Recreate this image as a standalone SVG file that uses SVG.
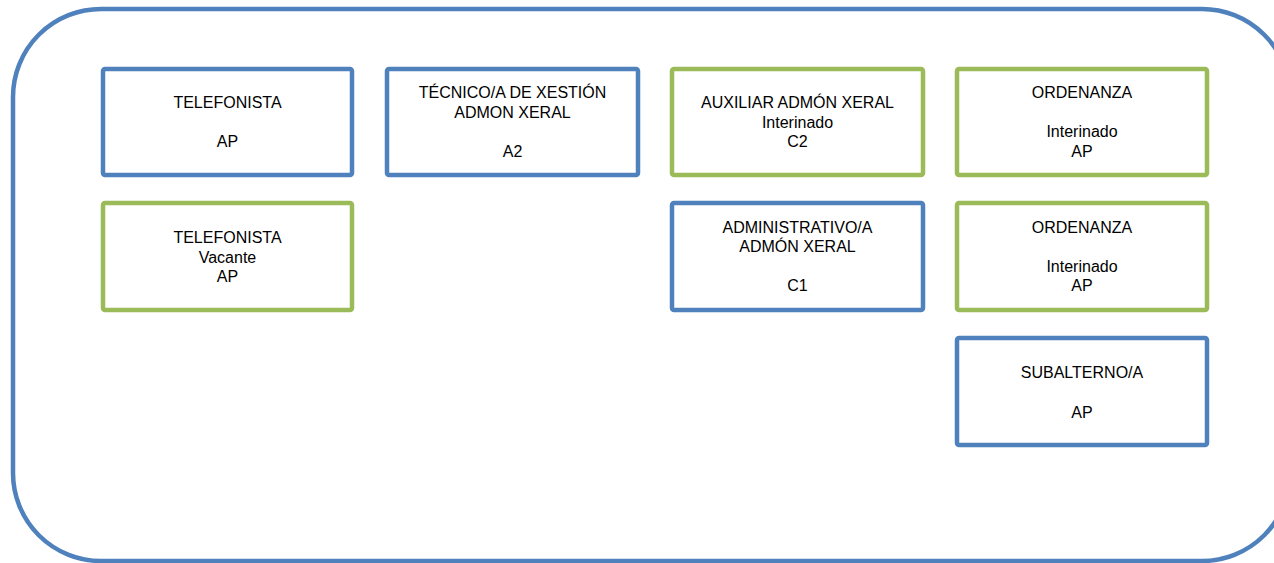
<svg xmlns="http://www.w3.org/2000/svg" width="1274" height="563" viewBox="0 0 1274 563">
<style>
.frame{fill:#ffffff;stroke:#4F81BD;stroke-width:4.5}
.b{fill:#ffffff;stroke:#4F81BD;stroke-width:4.5}
.g{fill:#ffffff;stroke:#9BBB59;stroke-width:4.5}
text{font-family:"Liberation Sans",Arial,sans-serif;font-size:16px;fill:#000000;text-anchor:middle}
</style>
<rect width="1274" height="563" fill="#ffffff"/>
<rect class="frame" x="13" y="9" width="1277" height="552" rx="88" ry="88"/>
<g id="connectors"></g>
<g id="n1">
<rect class="b" x="103" y="69" width="249" height="106" rx="2"/>
<text x="227.5" y="108">TELEFONISTA</text>
<text x="227.5" y="147">AP</text>
</g>
<g id="n2">
<rect class="b" x="387" y="69" width="251" height="106" rx="2"/>
<text x="512.5" y="98">TÉCNICO/A DE XESTIÓN</text>
<text x="512.5" y="117.5">ADMON XERAL</text>
<text x="512.5" y="156.5">A2</text>
</g>
<g id="n3">
<rect class="g" x="672" y="69" width="251" height="106" rx="2"/>
<text x="797.5" y="108">AUXILIAR ADMÓN XERAL</text>
<text x="797.5" y="127.5">Interinado</text>
<text x="797.5" y="147">C2</text>
</g>
<g id="n4">
<rect class="g" x="957" y="69" width="250" height="106" rx="2"/>
<text x="1082" y="98">ORDENANZA</text>
<text x="1082" y="137">Interinado</text>
<text x="1082" y="156.5">AP</text>
</g>
<g id="n5">
<rect class="g" x="103" y="203" width="249" height="107" rx="2"/>
<text x="227.5" y="243">TELEFONISTA</text>
<text x="227.5" y="262.5">Vacante</text>
<text x="227.5" y="282">AP</text>
</g>
<g id="n6">
<rect class="b" x="672" y="203" width="251" height="107" rx="2"/>
<text x="797.5" y="232.5">ADMINISTRATIVO/A</text>
<text x="797.5" y="252">ADMÓN XERAL</text>
<text x="797.5" y="291">C1</text>
</g>
<g id="n7">
<rect class="g" x="957" y="203" width="250" height="107" rx="2"/>
<text x="1082" y="233">ORDENANZA</text>
<text x="1082" y="271.5">Interinado</text>
<text x="1082" y="291">AP</text>
</g>
<g id="n8">
<rect class="b" x="957" y="338" width="250" height="107" rx="2"/>
<text x="1082" y="378">SUBALTERNO/A</text>
<text x="1082" y="417.5">AP</text>
</g>
</svg>
